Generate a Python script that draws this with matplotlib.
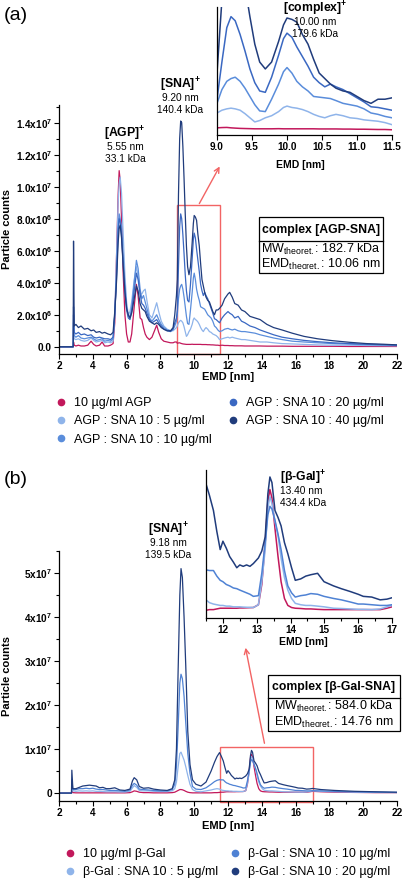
import numpy as np
import matplotlib
matplotlib.use('Agg')
import matplotlib.pyplot as plt
from matplotlib.ticker import MultipleLocator
from matplotlib.patches import Rectangle, FancyArrowPatch
from matplotlib.lines import Line2D

plt.rcParams['font.family'] = ['Liberation Sans', 'DejaVu Sans']
plt.rcParams['mathtext.fontset'] = 'custom'
plt.rcParams['mathtext.rm'] = 'Liberation Sans'
plt.rcParams['mathtext.bf'] = 'Liberation Sans:bold'
plt.rcParams['mathtext.it'] = 'Liberation Sans:italic'

# ---------------- panel (a): AGP / SNA, particle counts in 1e6 ----------------
emd_a = [2.0, 2.84, 2.86, 2.9, 3.0, 3.15, 3.3, 3.5, 3.7, 3.9, 4.05, 4.2, 4.4, 4.55, 4.7,
         4.9, 5.05, 5.2, 5.3, 5.4, 5.5, 5.56, 5.62, 5.7, 5.8, 5.9, 6.0, 6.1, 6.2, 6.3,
         6.45, 6.58, 6.68, 6.8, 6.9, 7.0, 7.1, 7.2, 7.35, 7.5, 7.65, 7.78, 7.9, 8.05, 8.2,
         8.4, 8.6, 8.75, 8.85, 8.95, 9.0, 9.07, 9.14, 9.2, 9.26, 9.33, 9.4, 9.47, 9.54, 9.61,
         9.69, 9.78, 9.88, 9.95, 10.0, 10.07, 10.14, 10.22, 10.3, 10.38, 10.46, 10.54, 10.62, 10.7, 10.8,
         10.9, 11.0, 11.1, 11.2, 11.3, 11.4, 11.5, 11.65, 11.8, 12.0, 12.1, 12.25, 12.4, 12.6, 12.8,
         13.0, 13.3, 13.6, 13.9, 14.3, 14.7, 15.2, 15.8, 16.5, 17.3, 18.2, 19.2, 20.2, 21.2, 22.0]
agp = [0, 0, 0.3, 0.1, 0.05, 0.1, 0.05, 0.05, 0.1, 0.35, 0.15, 0.05, 0.1, 0.3, 0.05,
       0.05, 0.1, 0.2, 1.5, 5.5, 9.5, 11.0, 10.4, 8.0, 4.5, 2.0, 0.8, 0.3, 0.3, 0.8,
       2.5, 3.9, 3.2, 1.8, 1.7, 1.2, 0.8, 0.6, 0.45, 0.6, 1.0, 1.35, 0.9, 0.5, 0.35,
       0.3, 0.25, 0.25, 0.3, 0.3, 0.22, 0.24, 0.25, 0.22, 0.2, 0.18, 0.17, 0.16, 0.15, 0.15,
       0.15, 0.15, 0.16, 0.15, 0.15, 0.15, 0.15, 0.15, 0.15, 0.15, 0.14, 0.14, 0.14, 0.14, 0.13,
       0.13, 0.12, 0.12, 0.11, 0.1, 0.1, 0.08, 0.1, 0.08, 0.08, 0.07, 0.07, 0.06, 0.06, 0.06,
       0.05, 0.05, 0.05, 0.05, 0.04, 0.04, 0.04, 0.03, 0.03, 0.03, 0.03, 0.02, 0.02, 0.02, 0.02]
agp_sna5 = [0, 0, 1.5, 0.5, 0.45, 0.5, 0.4, 0.35, 0.4, 0.55, 0.4, 0.3, 0.35, 0.4, 0.25,
            0.3, 0.25, 0.35, 2.0, 5.5, 9.0, 10.2, 10.6, 9.6, 7.0, 4.5, 2.8, 2.0, 2.2, 2.8,
            4.2, 5.0, 4.4, 3.3, 3.3, 3.5, 3.6, 2.9, 2.0, 1.8, 2.3, 2.75, 2.2, 1.6, 1.3,
            1.1, 1.0, 1.0, 1.1, 1.2, 1.3, 1.5, 1.6, 1.65, 1.6, 1.5, 1.25, 0.95, 0.65, 0.75,
            0.95, 1.1, 1.4, 1.7, 1.8, 1.7, 1.65, 1.55, 1.4, 1.2, 1.05, 0.95, 1.1, 1.2, 1.1,
            0.95, 0.9, 0.8, 0.75, 0.7, 0.6, 0.45, 0.5, 0.55, 0.6, 0.55, 0.6, 0.55, 0.5, 0.45,
            0.45, 0.4, 0.35, 0.3, 0.3, 0.25, 0.2, 0.18, 0.15, 0.12, 0.1, 0.1, 0.08, 0.07, 0.06]
agp_sna10 = [0, 0, 2.0, 0.7, 0.6, 0.7, 0.55, 0.5, 0.55, 0.6, 0.5, 0.4, 0.45, 0.5, 0.35,
             0.4, 0.35, 0.5, 2.0, 4.5, 7.5, 8.3, 8.0, 7.5, 5.5, 3.8, 2.5, 1.9, 1.9, 2.4,
             4.0, 5.4, 4.9, 3.6, 3.0, 3.2, 2.8, 2.4, 1.8, 1.6, 1.8, 2.0, 1.7, 1.4, 1.2,
             1.05, 1.0, 1.1, 1.3, 1.6, 2.0, 3.0, 3.6, 3.8, 3.9, 3.6, 3.1, 2.5, 1.9, 1.45,
             1.4, 2.3, 3.4, 4.3, 4.6, 4.2, 3.6, 3.2, 2.9, 2.5, 2.45, 2.4, 2.35, 2.2, 2.0,
             1.9, 1.8, 1.6, 1.3, 1.2, 1.05, 0.95, 1.0, 1.1, 1.15, 1.1, 1.05, 1.1, 1.0, 0.95,
             0.95, 0.9, 0.85, 0.75, 0.65, 0.55, 0.45, 0.35, 0.3, 0.25, 0.2, 0.17, 0.14, 0.12, 0.1]
agp_sna20 = [0, 0, 2.5, 0.9, 0.8, 0.9, 0.75, 0.8, 0.7, 0.75, 0.6, 0.55, 0.6, 0.55, 0.5,
             0.5, 0.45, 0.6, 2.0, 4.2, 7.2, 8.0, 7.8, 7.0, 5.2, 3.5, 2.3, 1.8, 1.7, 2.2,
             3.5, 4.6, 4.2, 3.3, 2.7, 2.6, 2.4, 2.1, 1.7, 1.5, 1.6, 1.7, 1.5, 1.3, 1.1,
             1.0, 0.95, 1.1, 1.5, 1.8, 2.3, 5.0, 7.5, 8.3, 8.0, 7.0, 5.8, 4.5, 3.5, 2.9,
             2.8, 3.9, 5.5, 6.7, 7.1, 6.8, 6.1, 5.4, 4.7, 3.9, 3.5, 3.2, 3.4, 3.2, 3.0,
             2.7, 2.4, 2.1, 1.75, 1.7, 1.6, 1.5, 1.8, 2.0, 2.2, 2.1, 2.0, 1.8, 1.9, 1.6,
             1.5, 1.3, 1.2, 1.05, 0.9, 0.75, 0.6, 0.5, 0.4, 0.32, 0.25, 0.2, 0.16, 0.13, 0.1]
agp_sna40 = [0, 0, 6.6, 1.3, 1.4, 1.2, 1.3, 1.1, 1.15, 1.0, 1.05, 0.9, 0.95, 0.85, 0.9,
             0.8, 0.75, 0.9, 2.2, 4.0, 6.5, 7.4, 7.6, 6.8, 5.0, 3.4, 2.4, 2.0, 1.8, 2.1,
             3.0, 3.8, 3.5, 2.7, 2.4, 2.3, 2.2, 1.9, 1.6, 1.5, 1.4, 1.5, 1.4, 1.2, 1.1,
             1.0, 1.0, 1.2, 2.0, 3.2, 4.2, 9.5, 13.0, 14.1, 14.0, 12.5, 10.5, 8.3, 6.3, 5.0,
             4.5, 5.0, 6.5, 7.7, 8.2, 8.1, 7.9, 7.0, 6.3, 5.2, 4.2, 3.8, 3.4, 3.1, 2.9,
             2.8, 2.5, 2.2, 2.0, 2.3, 2.3, 2.4, 2.6, 3.0, 3.3, 3.4, 3.1, 2.7, 2.6, 2.3,
             2.2, 1.9, 1.8, 1.7, 1.4, 1.2, 1.05, 0.85, 0.65, 0.5, 0.38, 0.28, 0.2, 0.16, 0.12]
labels_a = ['10 µg/ml AGP', 'AGP : SNA 10 : 5 µg/ml', 'AGP : SNA 10 : 10 µg/ml',
            'AGP : SNA 10 : 20 µg/ml', 'AGP : SNA 10 : 40 µg/ml']
yticks_a = [0, 2e6, 4e6, 6e6, 8e6, 1e7, 1.2e7, 1.4e7]
ylabels_a = ['0.0', '2.0x10$^{\\mathbf{6}}$', '4.0x10$^{\\mathbf{6}}$', '6.0x10$^{\\mathbf{6}}$',
             '8.0x10$^{\\mathbf{6}}$', '1.0x10$^{\\mathbf{7}}$', '1.2x10$^{\\mathbf{7}}$',
             '1.4x10$^{\\mathbf{7}}$']
inset_ticks_a = [9.0, 9.5, 10.0, 10.5, 11.0, 11.5]

# ---------------- panel (b): beta-Gal / SNA, particle counts in 1e6 ----------------
emd_b = [2.0, 2.74, 2.76, 2.82, 3.0, 3.2, 3.4, 3.6, 3.8, 4.0, 4.2, 4.4, 4.6, 4.8, 5.0,
         5.3, 5.6, 5.9, 6.2, 6.35, 6.45, 6.6, 6.75, 7.0, 7.3, 7.6, 8.0, 8.4, 8.7, 8.85,
         8.95, 9.05, 9.15, 9.22, 9.3, 9.4, 9.5, 9.62, 9.75, 9.9, 10.1, 10.4, 10.7, 11.0, 11.2,
         11.35, 11.5, 11.6, 11.72, 11.82, 11.92, 12.0, 12.1, 12.2, 12.31, 12.41, 12.5, 12.6, 12.7, 12.8,
         12.9, 13.05, 13.15, 13.25, 13.33, 13.39, 13.45, 13.54, 13.63, 13.72, 13.82, 13.92, 14.03, 14.14, 14.3,
         14.45, 14.6, 14.8, 14.99, 15.27, 15.5, 15.76, 16.0, 16.15, 16.4, 16.65, 16.85, 17.0, 17.5, 18.3,
         19.5, 20.7, 22.0]
gal = [0, 0, 0.5, 0.1, 0.05, 0.05, 0.05, 0.05, 0.05, 0.05, 0.05, 0.05, 0.05, 0.05, 0.05,
       0.05, 0.05, 0.05, 0.1, 0.3, 0.5, 0.4, 0.2, 0.1, 0.1, 0.05, 0.05, 0.05, 0.1, 0.2,
       0.4, 0.6, 0.8, 0.8, 0.75, 0.6, 0.4, 0.2, 0.1, 0.05, 0.05, 0.05, 0.05, 0.05, 0.1,
       0.1, 0.15, 0.2, 0.2, 0.25, 0.3, 0.3, 0.3, 0.3, 0.3, 0.3, 0.32, 0.32, 0.33, 0.34,
       0.35, 0.55, 2.0, 5.0, 8.0, 8.8, 8.2, 6.0, 4.0, 2.2, 1.0, 0.5, 0.35, 0.3, 0.28,
       0.25, 0.25, 0.22, 0.2, 0.2, 0.2, 0.2, 0.2, 0.2, 0.2, 0.2, 0.3, 0.4, 0.3, 0.2,
       0.15, 0.1, 0.1]
gal_sna5 = [0, 0, 2.0, 0.5, 0.4, 0.5, 0.45, 0.5, 0.45, 0.5, 0.4, 0.4, 0.35, 0.3, 0.3,
            0.3, 0.25, 0.25, 0.4, 1.2, 1.7, 1.3, 0.6, 0.5, 0.5, 0.4, 0.35, 0.35, 0.5, 1.0,
            2.5, 6.0, 9.0, 9.3, 8.5, 7.5, 6.0, 4.0, 2.0, 0.8, 0.4, 0.3, 0.5, 0.7, 0.9,
            1.0, 0.9, 0.7, 0.6, 0.55, 0.5, 0.5, 0.45, 0.45, 0.4, 0.4, 0.4, 0.38, 0.37, 0.36,
            0.35, 0.55, 2.2, 4.5, 7.5, 8.3, 7.8, 6.5, 5.5, 3.9, 2.5, 1.6, 1.0, 0.65, 0.55,
            0.5, 0.5, 0.45, 0.4, 0.3, 0.28, 0.25, 0.22, 0.22, 0.2, 0.25, 0.4, 0.5, 0.4, 0.3,
            0.2, 0.15, 0.1]
gal_sna10 = [0, 0, 3.0, 0.8, 0.8, 1.0, 1.0, 1.1, 1.0, 1.1, 0.9, 0.8, 0.8, 0.7, 0.6,
             0.6, 0.5, 0.4, 0.7, 1.8, 2.2, 1.8, 0.9, 0.8, 0.7, 0.6, 0.5, 0.5, 0.8, 2.0,
             6.0, 15.0, 25.0, 27.0, 26.0, 22.0, 16.0, 9.0, 4.5, 1.5, 0.9, 0.8, 1.2, 2.0, 2.6,
             2.9, 3.05, 3.0, 3.0, 2.6, 2.3, 2.2, 2.0, 1.9, 1.75, 1.7, 1.6, 1.5, 1.4, 1.3,
             1.15, 1.2, 2.8, 5.0, 7.0, 7.6, 7.4, 6.6, 5.6, 4.5, 3.0, 1.9, 1.4, 1.1, 1.2,
             1.25, 1.35, 1.3, 1.15, 1.0, 0.9, 0.75, 0.6, 0.6, 0.55, 0.5, 0.5, 0.55, 0.5, 0.4,
             0.3, 0.2, 0.15]
gal_sna20 = [0, 0, 5.2, 1.0, 1.0, 1.3, 1.6, 1.7, 1.8, 1.7, 1.6, 1.2, 1.3, 1.0, 1.0,
             1.2, 0.7, 0.6, 0.9, 2.8, 3.5, 3.0, 1.5, 1.1, 1.2, 0.9, 0.7, 0.6, 1.0, 3.0,
             10.0, 28.0, 45.0, 51.0, 49.0, 40.0, 29.0, 14.0, 6.5, 3.0, 2.0, 1.6, 2.5, 5.0, 7.0,
             8.3, 9.2, 8.4, 7.3, 5.8, 4.5, 5.1, 4.6, 4.0, 3.6, 3.2, 3.4, 3.3, 3.4, 3.3,
             3.5, 3.9, 4.4, 5.4, 8.5, 9.7, 9.3, 7.3, 6.8, 6.2, 5.0, 4.2, 3.2, 2.3, 2.4,
             2.6, 2.7, 2.8, 2.2, 1.9, 1.7, 1.5, 1.3, 1.15, 1.1, 0.9, 0.95, 1.05, 0.8, 0.6,
             0.4, 0.3, 0.2]
labels_b = ['10 µg/ml β-Gal', 'β-Gal : SNA 10 : 5 µg/ml',
            'β-Gal : SNA 10 : 10 µg/ml', 'β-Gal : SNA 10 : 20 µg/ml']
yticks_b = [0, 1e7, 2e7, 3e7, 4e7, 5e7]
ylabels_b = ['0', '1x10$^{\\mathbf{7}}$', '2x10$^{\\mathbf{7}}$', '3x10$^{\\mathbf{7}}$',
             '4x10$^{\\mathbf{7}}$', '5x10$^{\\mathbf{7}}$']
inset_ticks_b = [12, 13, 14, 15, 16, 17]
xticks_main = [2, 4, 6, 8, 10, 12, 14, 16, 18, 20, 22]

colors_a = ['#c2185b', '#8fb4ea', '#5a8ddb', '#3a68c2', '#203c7c']
colors_b = ['#c2185b', '#8fb4ea', '#4f82d4', '#203c7c']
RED = '#f26464'

W, H = 403, 880
fig = plt.figure(figsize=(W / 100, H / 100), dpi=100)


def rect(l, t, r, b):
    return [l / W, 1 - b / H, (r - l) / W, (b - t) / H]


def ftext(x, y, s, **kw):
    kw.setdefault('ha', 'center')
    kw.setdefault('va', 'center')
    fig.text(x / W, 1 - y / H, s, **kw)


def peak_note(x, y, head, lines, ha='center'):
    # bold header with two small lines underneath
    ftext(x, y, head, fontsize=8.8, fontweight='bold', ha=ha)
    ftext(x, y + 13, lines[0], fontsize=7.3, ha=ha)
    ftext(x, y + 25, lines[1], fontsize=7.3, ha=ha)


def bold_ticks(ax, size):
    for lab in ax.get_xticklabels() + ax.get_yticklabels():
        lab.set_fontweight('bold')
        lab.set_fontsize(size)


def style_axes(ax):
    ax.spines[['top', 'right']].set_visible(False)
    ax.spines[['left', 'bottom']].set_linewidth(0.9)
    ax.tick_params(which='both', direction='out', width=0.8, pad=1.5)
    ax.tick_params(which='major', length=3.5)
    ax.tick_params(which='minor', length=2)


def table_box(l, t, r, b, mid, title, mw, emd):
    fig.add_artist(Rectangle((l / W, 1 - b / H), (r - l) / W, (b - t) / H,
                             transform=fig.transFigure, fc='white', ec='black', lw=0.9))
    fig.add_artist(Line2D([l / W, r / W], [1 - mid / H] * 2, transform=fig.transFigure,
                          color='black', lw=0.9))
    cx = (l + r) / 2
    ftext(cx, (t + mid) / 2 + 0.5, title, fontsize=8.8, fontweight='bold')
    ftext(cx, mid + (b - mid) * 0.27, mw, fontsize=9)
    ftext(cx, mid + (b - mid) * 0.74, emd, fontsize=9)


def arrow(p0, p1):
    fig.add_artist(FancyArrowPatch((p0[0] / W, 1 - p0[1] / H), (p1[0] / W, 1 - p1[1] / H),
                                   transform=fig.transFigure, arrowstyle='->',
                                   mutation_scale=9, color=RED, lw=1.0))


# ====================== panel (a) ======================
ax = fig.add_axes(rect(59, 105, 397, 354))
series_a = [agp, agp_sna5, agp_sna10, agp_sna20, agp_sna40]
for vals, c, lab in zip(series_a, colors_a, labels_a):
    ax.plot(emd_a, np.array(vals) * 1e6, color=c, lw=0.9, label=lab)
ax.set_xlim(2, 22)
ax.set_ylim(-0.45e6, 1.51e7)
ax.set_xticks(xticks_main, [str(v) for v in xticks_main])
ax.xaxis.set_minor_locator(MultipleLocator(1))
ax.set_yticks(yticks_a, ylabels_a)
ax.yaxis.set_minor_locator(MultipleLocator(1e6))
style_axes(ax)
bold_ticks(ax, 7.2)
ax.add_patch(Rectangle((9.0, -0.42e6), 2.5, 9.3e6, fill=False, ec=RED, lw=1.0, clip_on=False))

ins = fig.add_axes(rect(217, 7, 392, 135))
for vals, c in zip(series_a, colors_a):
    ins.plot(emd_a, np.array(vals) * 1e6, color=c, lw=1.1)
ins.set_xlim(9.0, 11.5)
ins.set_ylim(-0.3e6, 9.0e6)
ins.set_xticks(inset_ticks_a, ['%.1f' % v for v in inset_ticks_a])
ins.set_yticks([])
style_axes(ins)
bold_ticks(ins, 7.2)
ins.patch.set_alpha(0)

ftext(16, 16, '(a)', fontsize=14)
peak_note(125, 134, '[AGP]$^{\\mathbf{+}}$', ['5.55 nm', '33.1 kDa'])
peak_note(180, 85, '[SNA]$^{\\mathbf{+}}$', ['9.20 nm', '140.4 kDa'])
peak_note(315, 9, '[complex]$^{\\mathbf{+}}$', ['10.00 nm', '179.6 kDa'])
ftext(300, 165, 'EMD [nm]', fontsize=7.5, fontweight='bold')
ftext(228, 377, 'EMD [nm]', fontsize=8, fontweight='bold')
ftext(7, 229, 'Particle counts', fontsize=8, fontweight='bold', rotation=90)
table_box(259, 217, 383, 273, 241, 'complex [AGP-SNA]',
          'MW$_{\\mathrm{theoret.}}$: 182.7 kDa', 'EMD$_{\\mathrm{theoret.}}$: 10.06 nm')
arrow((198, 206), (221, 164))

h_a = [Line2D([], [], ls='', marker='o', ms=4.5, color=c) for c in colors_a]
fig.legend(h_a, labels_a, ncol=2, loc='upper left', bbox_to_anchor=(55 / W, 1 - 397 / H),
           frameon=False, fontsize=9, handlelength=0.9, handletextpad=0.6,
           columnspacing=1.3, labelspacing=0.5, borderpad=0, borderaxespad=0)

# ====================== panel (b) ======================
bx = fig.add_axes(rect(59, 551, 397, 801))
series_b = [gal, gal_sna5, gal_sna10, gal_sna20]
for vals, c, lab in zip(series_b, colors_b, labels_b):
    bx.plot(emd_b, np.array(vals) * 1e6, color=c, lw=0.9, label=lab)
bx.set_xlim(2, 22)
bx.set_ylim(-0.18e7, 5.5e7)
bx.set_xticks(xticks_main, [str(v) for v in xticks_main])
bx.xaxis.set_minor_locator(MultipleLocator(1))
bx.set_yticks(yticks_b, ylabels_b)
bx.yaxis.set_minor_locator(MultipleLocator(0.5e7))
style_axes(bx)
bold_ticks(bx, 7.2)
bx.add_patch(Rectangle((11.5, -0.2e7), 5.5, 1.25e7, fill=False, ec=RED, lw=1.0, clip_on=False))

ins2 = fig.add_axes(rect(206, 470, 392, 618))
for vals, c in zip(series_b, colors_b):
    ins2.plot(emd_b, np.array(vals) * 1e6, color=c, lw=1.1)
ins2.set_xlim(11.5, 17.0)
ins2.set_ylim(-0.4e6, 10.2e6)
ins2.set_xticks(inset_ticks_b, [str(v) for v in inset_ticks_b])
ins2.xaxis.set_minor_locator(MultipleLocator(0.5))
ins2.set_yticks([])
style_axes(ins2)
bold_ticks(ins2, 7.2)
ins2.patch.set_alpha(0)

ftext(16, 479, '(b)', fontsize=14)
peak_note(168, 530, '[SNA]$^{\\mathbf{+}}$', ['9.18 nm', '139.5 kDa'])
peak_note(280, 478, '[β-Gal]$^{\\mathbf{+}}$', ['13.40 nm', '434.4 kDa'], ha='left')
ftext(303, 642, 'EMD [nm]', fontsize=7.5, fontweight='bold')
ftext(228, 826, 'EMD [nm]', fontsize=8, fontweight='bold')
ftext(7, 676, 'Particle counts', fontsize=8, fontweight='bold', rotation=90)
table_box(268, 675, 400, 731, 698, 'complex [β-Gal-SNA]',
          'MW$_{\\mathrm{theoret.}}$: 584.0 kDa', 'EMD$_{\\mathrm{theoret.}}$: 14.76 nm')
arrow((265, 746), (245, 645))

h_b = [Line2D([], [], ls='', marker='o', ms=4.5, color=c) for c in colors_b]
fig.legend(h_b, labels_b, ncol=2, loc='upper left', bbox_to_anchor=(64 / W, 1 - 848 / H),
           frameon=False, fontsize=9, handlelength=0.9, handletextpad=0.6,
           columnspacing=0.9, labelspacing=0.5, borderpad=0, borderaxespad=0)

fig.savefig('out.png', dpi=100)
